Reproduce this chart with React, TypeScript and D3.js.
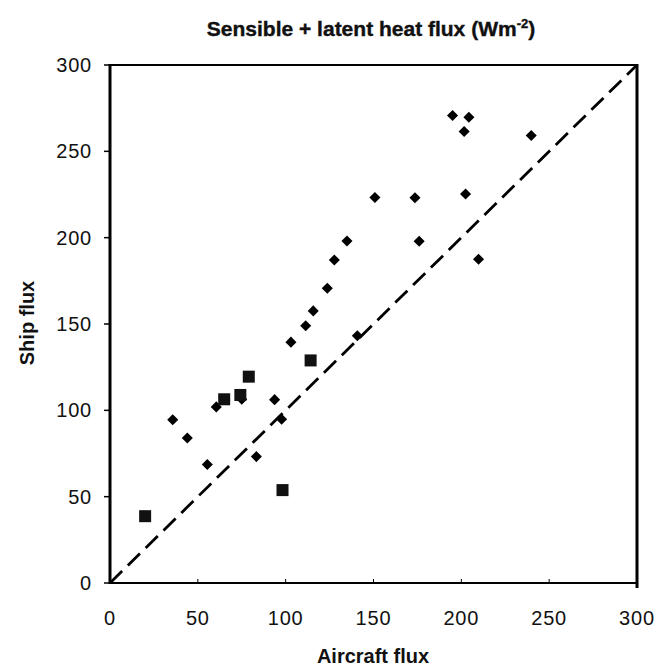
import React from "react";
import * as d3 from "d3";

const diamondX = [35.7, 44, 55.4, 60.5, 75, 83.3, 93.7, 97.7, 103, 111.4, 115.7, 140.8, 150.8, 134.9, 127.7, 123.7, 195, 204.3, 201.6, 239.8, 173.6, 202.4, 176, 209.8];
const diamondY = [94.6, 84, 68.6, 102, 106.4, 73.2, 106.2, 94.8, 139.5, 149, 157.6, 143.2, 223.3, 198.1, 187.1, 170.7, 270.8, 269.7, 261.5, 259.2, 223.1, 225.3, 197.9, 187.5];
const squareX = [20, 65, 74.2, 79, 98.2, 114.2];
const squareY = [38.7, 106.4, 108.9, 119.5, 53.8, 128.9];
const tickValues = [0, 50, 100, 150, 200, 250, 300];
const lineDomain = [0, 300];

export default function App() {
  const W = 670, H = 671;
  const x = d3.scaleLinear().domain([0, 300]).range([110, 637]);
  const y = d3.scaleLinear().domain([0, 300]).range([583, 65]);
  const font = "Arial, 'Liberation Sans', sans-serif";
  const diamond = d3.symbol().type(d3.symbolDiamond2).size(78)();
  const line = d3.line<number>().x((d) => x(d)).y((d) => y(d));

  return (
    <svg width={W} height={H} style={{ position: "absolute", left: 0, top: 0, background: "#fff" }} fontFamily={font}>
      <rect x={0} y={0} width={W} height={H} fill="#fff" />
      <text x={371} y={36} textAnchor="middle" fontSize={21} fontWeight="bold" fill="#111" stroke="#111" strokeWidth={0.4}>
        Sensible + latent heat flux (Wm<tspan dy={-8} fontSize={13}>-2</tspan><tspan dy={8}>)</tspan>
      </text>
      <path d={line(lineDomain) || ""} stroke="#000" strokeWidth={2.8} strokeDasharray="17 8" fill="none" />
      <line x1={x(0)} x2={x(300)} y1={y(300)} y2={y(300)} stroke="#000" strokeWidth={2} />
      <line x1={x(0)} x2={x(300)} y1={y(0)} y2={y(0)} stroke="#000" strokeWidth={2} />
      <line x1={x(0)} x2={x(0)} y1={y(300) - 1} y2={y(0) + 1} stroke="#000" strokeWidth={3} />
      <line x1={x(300)} x2={x(300)} y1={y(300) - 1} y2={y(0) + 5} stroke="#000" strokeWidth={3} />
      {tickValues.map((t) => (
        <g key={"y" + t}>
          <line x1={x(0) - 6} x2={x(0)} y1={y(t)} y2={y(t)} stroke="#000" strokeWidth={1.5} />
          <text x={x(0) - 18} y={y(t) + 7} textAnchor="end" fontSize={20} letterSpacing={0.8} fill="#111">{t}</text>
        </g>
      ))}
      {tickValues.map((t) => (
        <g key={"x" + t}>
          <line x1={x(t)} x2={x(t)} y1={y(0)} y2={y(0) - 4} stroke="#000" strokeWidth={1} />
          <text x={x(t)} y={625} textAnchor="middle" fontSize={20} letterSpacing={0.8} fill="#111">{t}</text>
        </g>
      ))}
      <text x={373} y={663} textAnchor="middle" fontSize={20} fontWeight="bold" fill="#111">Aircraft flux</text>
      <text transform={`translate(34, ${323}) rotate(-90)`} textAnchor="middle" fontSize={20} fontWeight="bold" fill="#111">Ship flux</text>
      {diamondX.map((v, i) => (
        <path key={"d" + i} d={diamond || ""} transform={`translate(${x(v)},${y(diamondY[i])})`} fill="#000" />
      ))}
      {squareX.map((v, i) => (
        <rect key={"s" + i} x={x(v) - 6} y={y(squareY[i]) - 6} width={12} height={12} fill="#111" />
      ))}
    </svg>
  );
}
